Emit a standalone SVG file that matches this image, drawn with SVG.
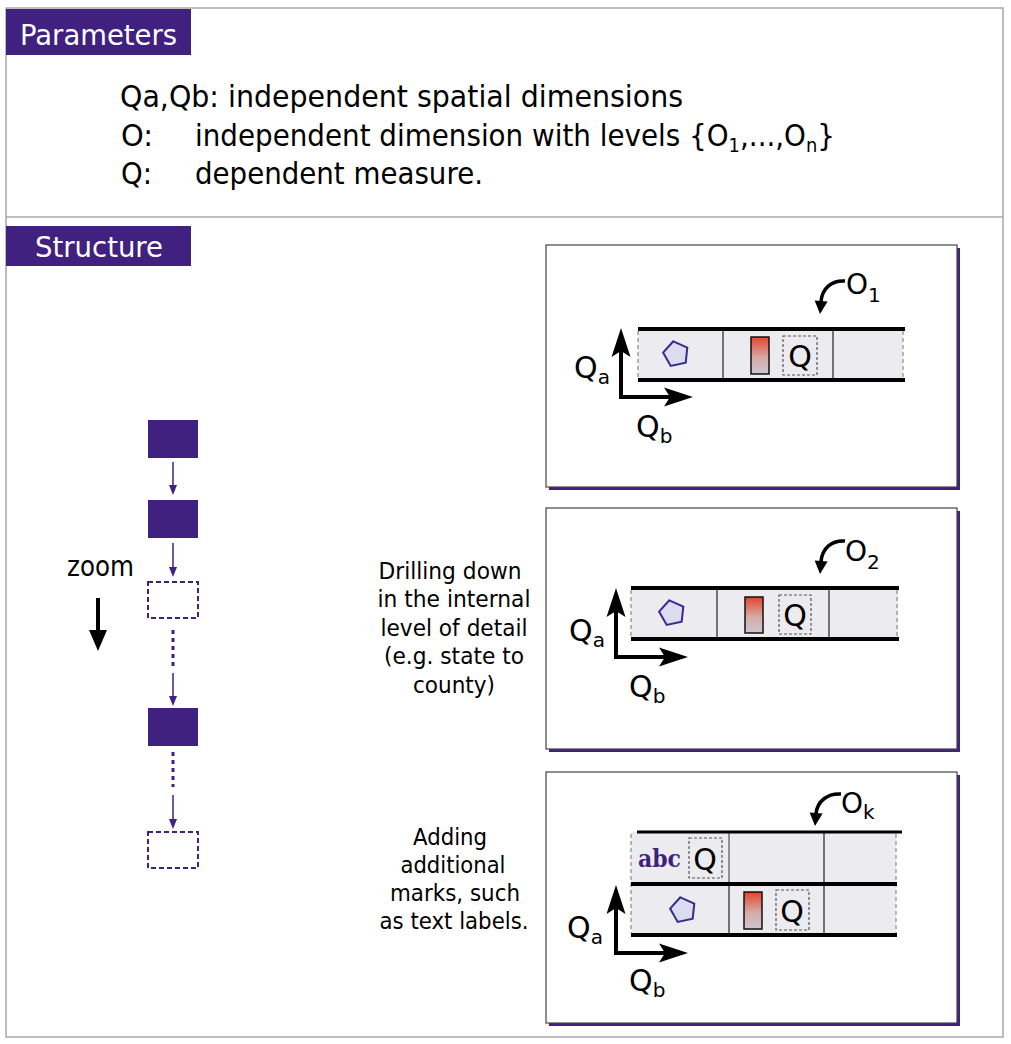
<svg xmlns="http://www.w3.org/2000/svg" xmlns:xlink="http://www.w3.org/1999/xlink" width="1011" height="1044" viewBox="0 0 1011 1044">
<style>
.frame{fill:none;stroke:#a8a8a8;stroke-width:1.5}
.hdr{fill:#40217f}
.hdrtxt{font-family:"DejaVu Sans",sans-serif;font-size:29px;fill:#fff}
.t{font-family:"DejaVu Sans",sans-serif;fill:#000}
.p{font-size:31px}
.d{font-size:23px;text-anchor:middle}
.lbl{font-size:30px}
.sub{font-size:20px}
.panel{fill:#fff;stroke:#444;stroke-width:1.2}
.shadow{fill:#40217f}
.strip{fill:#ececf0}
.thick{stroke:#000;stroke-width:4}
.dv{stroke:#555;stroke-width:1.6}
.dashv{stroke:#8a8a8a;stroke-width:1.2;stroke-dasharray:4 3}
.qbox{fill:none;stroke:#555;stroke-width:1.2;stroke-dasharray:3 2}
.bar{fill:url(#grad);stroke:#111;stroke-width:1.5}
.pent{fill:#dcdcf0;stroke:#3a2a8a;stroke-width:2}
.axis{stroke:#000;stroke-width:4;fill:none}
.curve{stroke:#000;stroke-width:3.5;fill:none}
.box{fill:#40217f}
.dbox{fill:none;stroke:#40217f;stroke-width:2;stroke-dasharray:5 3}
.conn{stroke:#40217f;stroke-width:1.5}
.dots{stroke:#40217f;stroke-width:3;stroke-dasharray:4 4}
.abc{font-family:"DejaVu Serif",serif;font-weight:bold;font-size:24px;fill:#40217f}
</style>
<defs>
<linearGradient id="grad" x1="0" y1="0" x2="0" y2="1">
<stop offset="0" stop-color="#e4452a"/>
<stop offset="0.55" stop-color="#d6aaa6"/>
<stop offset="1" stop-color="#cbc7d0"/>
</linearGradient>
<polygon id="pg" class="pent" points="-2.7,-12.7 11.3,-6.5 9.7,8.7 -5.3,11.9 -12.9,-1.4"/>
<path id="ah" d="M0,0 L-29,-9.5 L-23,0 L-29,9.5 Z" fill="#000"/>
<path id="ah2" d="M0,0 L-13,-6.5 L-13,6.5 Z" fill="#000"/>
<path id="sa" d="M0,0 L-10,-4 L-10,4 Z" fill="#40217f"/>
</defs>

<g id="frame">
<rect class="frame" x="6" y="8" width="997" height="1029"/>
<line class="frame" x1="6" y1="217" x2="1003" y2="217"/>
</g>

<g id="parameters">
<rect class="hdr" x="6" y="9" width="185" height="46"/>
<text class="hdrtxt" x="20" y="45" textLength="157" lengthAdjust="spacingAndGlyphs">Parameters</text>
<text class="t p" x="120" y="107" textLength="563" lengthAdjust="spacingAndGlyphs">Qa,Qb: independent spatial dimensions</text>
<text class="t p" x="121" y="146" textLength="32" lengthAdjust="spacingAndGlyphs">O:</text>
<text class="t p" transform="translate(195,146) scale(0.896,1)" x="0" y="0">independent dimension with levels {O<tspan font-size="20" dy="6">1</tspan><tspan dy="-6">,...,O</tspan><tspan font-size="20" dy="6">n</tspan><tspan dy="-6">}</tspan></text>
<text class="t p" x="121" y="184" textLength="31" lengthAdjust="spacingAndGlyphs">Q:</text>
<text class="t p" x="195" y="184" textLength="288" lengthAdjust="spacingAndGlyphs">dependent measure.</text>
</g>

<g id="structure">
<rect class="hdr" x="6" y="226" width="185" height="40"/>
<text class="hdrtxt" x="35" y="257" textLength="128" lengthAdjust="spacingAndGlyphs">Structure</text>
</g>

<g id="zoom-label">
<text class="t" x="67" y="576" font-size="28" textLength="67" lengthAdjust="spacingAndGlyphs">zoom</text>
<line x1="98" y1="598" x2="98" y2="636" stroke="#000" stroke-width="4"/>
<path d="M98,651 L89,630 L107,630 Z" fill="#000"/>
</g>

<g id="level1"><rect class="box" x="148" y="420" width="50" height="38"/></g>
<g id="level2"><rect class="box" x="148" y="500" width="50" height="38"/></g>
<g id="level3"><rect class="dbox" x="148" y="582" width="50" height="36"/></g>
<g id="level4"><rect class="box" x="148" y="708" width="50" height="38"/></g>
<g id="level5"><rect class="dbox" x="148" y="832" width="50" height="36"/></g>

<g id="connectors">
<line class="conn" x1="173" y1="462" x2="173" y2="488"/>
<use xlink:href="#sa" transform="translate(173,495) rotate(90)"/>
<line class="conn" x1="173" y1="543" x2="173" y2="570"/>
<use xlink:href="#sa" transform="translate(173,577) rotate(90)"/>
<line class="dots" x1="173" y1="630" x2="173" y2="667"/>
<line class="conn" x1="173" y1="673" x2="173" y2="699"/>
<use xlink:href="#sa" transform="translate(173,706) rotate(90)"/>
<line class="dots" x1="173" y1="752" x2="173" y2="787"/>
<line class="conn" x1="173" y1="795" x2="173" y2="822"/>
<use xlink:href="#sa" transform="translate(173,829) rotate(90)"/>
</g>

<g id="panel1">
<rect class="shadow" x="549" y="248" width="411" height="242"/>
<rect class="panel" x="546" y="245" width="411" height="242"/>
<rect class="strip" x="638" y="329" width="265" height="51"/>
<line class="dashv" x1="638" y1="331" x2="638" y2="378"/>
<line class="dashv" x1="903" y1="331" x2="903" y2="378"/>
<line class="dv" x1="723" y1="329" x2="723" y2="380"/>
<line class="dv" x1="833" y1="329" x2="833" y2="380"/>
<line class="thick" x1="638" y1="329" x2="905" y2="329"/>
<line class="thick" x1="638" y1="380" x2="905" y2="380"/>
<use xlink:href="#pg" transform="translate(676,354)"/>
<rect class="bar" x="751" y="337" width="18" height="37"/>
<rect class="qbox" x="783" y="336" width="34" height="39"/>
<text class="t lbl" x="800" y="367" text-anchor="middle">Q</text>
<path class="axis" d="M621,340 V397 H672"/>
<use xlink:href="#ah" transform="translate(621,328) rotate(-90)"/>
<use xlink:href="#ah" transform="translate(693,397)"/>
<text class="t lbl" x="574" y="378">Q<tspan class="sub" dy="6">a</tspan></text>
<text class="t lbl" x="636" y="437">Q<tspan class="sub" dy="6">b</tspan></text>
<path class="curve" d="M845,281 C832,280 822,288 821,302"/>
<use xlink:href="#ah2" transform="translate(820,314) rotate(95)"/>
<text class="t" x="846" y="294" font-size="28">O<tspan font-size="20" dy="8">1</tspan></text>
</g>

<g id="panel2">
<rect class="shadow" x="549" y="511" width="411" height="241"/>
<rect class="panel" x="546" y="508" width="411" height="241"/>
<rect class="strip" x="631" y="588" width="267" height="51"/>
<line class="dashv" x1="631" y1="590" x2="631" y2="637"/>
<line class="dashv" x1="897" y1="590" x2="897" y2="637"/>
<line class="dv" x1="717" y1="588" x2="717" y2="639"/>
<line class="dv" x1="829" y1="588" x2="829" y2="639"/>
<line class="thick" x1="631" y1="588" x2="899" y2="588"/>
<line class="thick" x1="631" y1="639" x2="899" y2="639"/>
<use xlink:href="#pg" transform="translate(672,613)"/>
<rect class="bar" x="745" y="597" width="18" height="36"/>
<rect class="qbox" x="779" y="595" width="32" height="39"/>
<text class="t lbl" x="795" y="626" text-anchor="middle">Q</text>
<path class="axis" d="M616,600 V657 H667"/>
<use xlink:href="#ah" transform="translate(616,588) rotate(-90)"/>
<use xlink:href="#ah" transform="translate(688,657)"/>
<text class="t lbl" x="569" y="641">Q<tspan class="sub" dy="6">a</tspan></text>
<text class="t lbl" x="629" y="697">Q<tspan class="sub" dy="6">b</tspan></text>
<path class="curve" d="M845,541 C832,540 822,548 821,562"/>
<use xlink:href="#ah2" transform="translate(820,574) rotate(95)"/>
<text class="t" x="845" y="561" font-size="28">O<tspan font-size="20" dy="8">2</tspan></text>
</g>

<g id="label-drill">
<text class="t d" x="450" y="579" textLength="143" lengthAdjust="spacingAndGlyphs">Drilling down</text>
<text class="t d" x="454" y="607" textLength="153" lengthAdjust="spacingAndGlyphs">in the internal</text>
<text class="t d" x="454" y="636" textLength="147" lengthAdjust="spacingAndGlyphs">level of detail</text>
<text class="t d" x="454" y="664" textLength="140" lengthAdjust="spacingAndGlyphs">(e.g. state to</text>
<text class="t d" x="454" y="693" textLength="82" lengthAdjust="spacingAndGlyphs">county)</text>
</g>

<g id="panel3">
<rect class="shadow" x="549" y="775" width="411" height="251"/>
<rect class="panel" x="546" y="772" width="411" height="251"/>
<rect class="strip" x="631" y="832" width="265" height="103"/>
<line class="dashv" x1="631" y1="834" x2="631" y2="933"/>
<line class="dashv" x1="896" y1="834" x2="896" y2="933"/>
<line stroke="#777" stroke-width="1.6" x1="729" y1="832" x2="729" y2="884"/>
<line class="dv" x1="729" y1="884" x2="729" y2="935" stroke="#222"/>
<line class="dv" x1="824" y1="832" x2="824" y2="935" stroke="#222"/>
<line stroke="#000" stroke-width="3" x1="637" y1="832" x2="902" y2="832"/>
<line class="thick" x1="631" y1="884" x2="897" y2="884"/>
<line class="thick" x1="631" y1="935" x2="897" y2="935"/>
<text class="abc" x="638" y="867" textLength="43" lengthAdjust="spacingAndGlyphs">abc</text>
<rect class="qbox" x="689" y="838" width="33" height="40"/>
<text class="t lbl" x="705" y="870" text-anchor="middle">Q</text>
<use xlink:href="#pg" transform="translate(683,910)"/>
<rect class="bar" x="744" y="892" width="18" height="37"/>
<rect class="qbox" x="776" y="890" width="33" height="40"/>
<text class="t lbl" x="792" y="922" text-anchor="middle">Q</text>
<path class="axis" d="M616,897 V953 H667"/>
<use xlink:href="#ah" transform="translate(616,885) rotate(-90)"/>
<use xlink:href="#ah" transform="translate(688,953)"/>
<text class="t lbl" x="567" y="938">Q<tspan class="sub" dy="6">a</tspan></text>
<text class="t lbl" x="629" y="991">Q<tspan class="sub" dy="6">b</tspan></text>
<path class="curve" d="M841,794 C828,793 817,801 816,814"/>
<use xlink:href="#ah2" transform="translate(815,826) rotate(95)"/>
<text class="t" x="841" y="813" font-size="28">O<tspan font-size="20" dy="6">k</tspan></text>
</g>

<g id="label-adding">
<text class="t d" x="450" y="845" textLength="74" lengthAdjust="spacingAndGlyphs">Adding</text>
<text class="t d" x="453" y="873" textLength="105" lengthAdjust="spacingAndGlyphs">additional</text>
<text class="t d" x="455" y="901" textLength="130" lengthAdjust="spacingAndGlyphs">marks, such</text>
<text class="t d" x="454" y="929" textLength="149" lengthAdjust="spacingAndGlyphs">as text labels.</text>
</g>
</svg>
